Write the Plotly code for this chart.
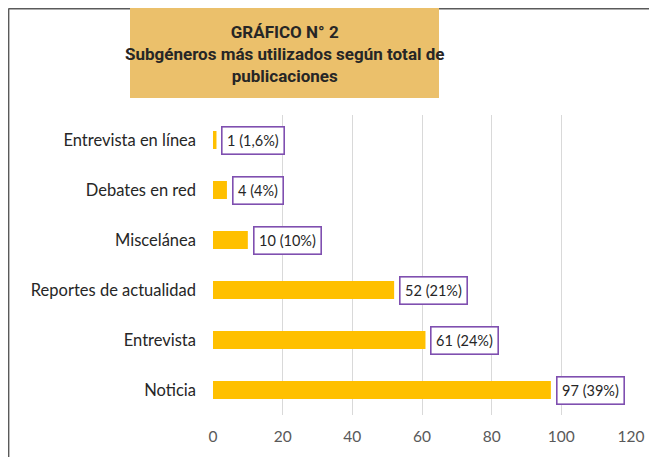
import plotly.graph_objects as go

categories = ["Noticia", "Entrevista", "Reportes de actualidad", "Miscelánea",
              "Debates en red", "Entrevista en línea"]
values = [97, 61, 52, 10, 4, 1]
labels = ["97 (39%)", "61 (24%)", "52 (21%)", "10 (10%)", "4 (4%)", "1 (1,6%)"]
x_ticks = [0, 20, 40, 60, 80, 100, 120]
title_lines = ["GRÁFICO N° 2", "Subgéneros más utilizados según total de", "publicaciones"]

# page has an 8px body margin; work in page pixel coordinates and shift
OFF = 8
W, H = 657 - OFF, 457 - OFF
L, R, T, B = 213 - OFF, 26, 115 - OFF, 42
pw, ph = W - L - R, H - T - B


def px(x):
    return (x - OFF - L) / pw


def py(y):
    return (H - B - (y - OFF)) / ph


fig = go.Figure()
fig.add_trace(go.Bar(
    y=categories, x=values, orientation="h",
    marker=dict(color="#FFC000", line=dict(width=0)),
    width=0.36, hoverinfo="skip",
))

for c, v, t in zip(categories, values, labels):
    fig.add_annotation(
        x=v, y=c, xref="x", yref="y", text=t, showarrow=False,
        xanchor="left", yanchor="middle", xshift=5,
        font=dict(family="Lato, Carlito, 'Open Sans', sans-serif", size=14.5, color="#262626"),
        bordercolor="#7F4FB0", borderwidth=1.6, borderpad=4.5, bgcolor="white",
    )

# frame lines
fig.add_shape(type="line", xref="paper", yref="paper",
              x0=px(8.5), x1=px(657), y0=py(8.5), y1=py(8.5),
              line=dict(color="#5a5a5a", width=1.8))
fig.add_shape(type="line", xref="paper", yref="paper",
              x0=px(8.5), x1=px(8.5), y0=py(8.5), y1=py(457),
              line=dict(color="#5a5a5a", width=1.8))
# title box
fig.add_shape(type="rect", xref="paper", yref="paper",
              x0=px(130), x1=px(439), y0=py(98), y1=py(8),
              fillcolor="#EBC06B", line=dict(width=0), layer="above")
fig.add_annotation(
    x=px(284.5), y=py(54), xref="paper", yref="paper",
    text="<br>".join(title_lines), showarrow=False,
    xanchor="center", yanchor="middle", align="center",
    font=dict(family="Roboto, 'Liberation Sans', Arial, sans-serif",
              size=17, color="#262626", weight="bold"),
)

fig.update_layout(
    width=W, height=H,
    margin=dict(l=L, r=R, t=T, b=B),
    paper_bgcolor="white", plot_bgcolor="white",
    showlegend=False,
    xaxis=dict(range=[0, 120], tickvals=x_ticks, showgrid=True, gridcolor="#d9d9d9",
               gridwidth=1, zeroline=False, showline=False, ticks="",
               tickfont=dict(family="Lato, Carlito, 'Open Sans', sans-serif", size=15.5, color="#595959"),
               ticklabelstandoff=10, fixedrange=True),
    yaxis=dict(range=[-0.5, 5.5], showgrid=False, zeroline=False, showline=False, ticks="",
               tickfont=dict(family="Lato, Carlito, 'Open Sans', sans-serif", size=16.5, color="#262626"),
               ticklabelstandoff=16, fixedrange=True),
)

fig.write_html("out.html")
